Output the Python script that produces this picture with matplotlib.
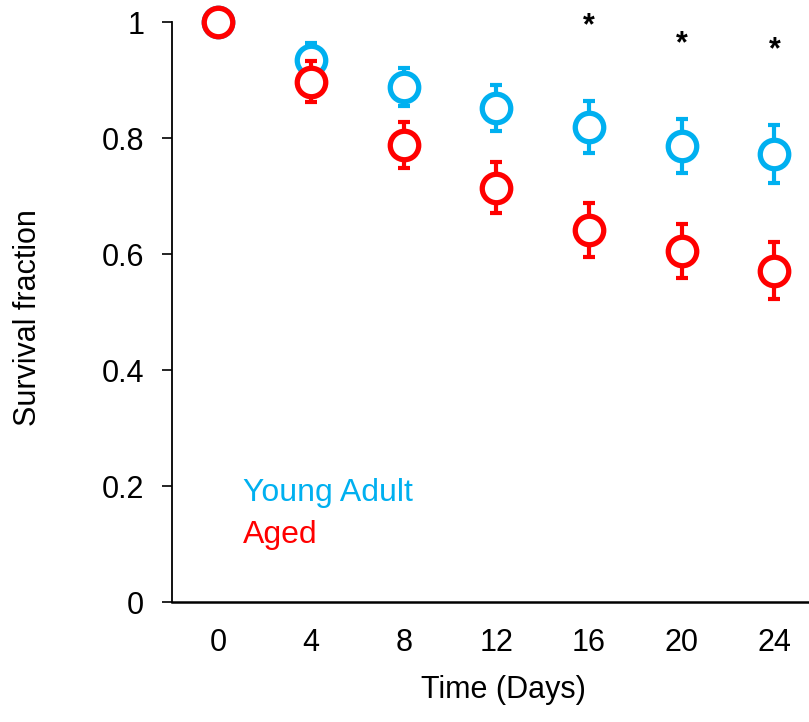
import matplotlib
matplotlib.use("Agg")
import matplotlib.pyplot as plt

plt.rcParams['font.family'] = ['Liberation Sans', 'DejaVu Sans']

days = [0, 4, 8, 12, 16, 20, 24]
young_mean = [1.0, 0.934, 0.888, 0.852, 0.819, 0.786, 0.772]
young_err = [0.0, 0.030, 0.033, 0.040, 0.045, 0.047, 0.050]
aged_mean = [1.0, 0.897, 0.788, 0.714, 0.641, 0.605, 0.571]
aged_err = [0.0, 0.035, 0.040, 0.044, 0.047, 0.047, 0.049]
signif_days = [16, 20, 24]
yticks = [0, 0.2, 0.4, 0.6, 0.8, 1]
ytick_labels = ['0', '0.2', '0.4', '0.6', '0.8', '1']

BLUE = '#00B0F0'
RED = '#FF0000'
FS = 22

W, H = 809, 722
fig = plt.figure(figsize=(W / 100, H / 100), dpi=100)
px_per_day = (775 - 219) / 24.0
x_left = -2.0
x_right = 26.0
ax_w = (x_right - x_left) * px_per_day
ax_h = 602 - 22
ax = fig.add_axes([172 / W, 1 - 602 / H, ax_w / W, ax_h / H])

for mean, err, col, z in [(young_mean, young_err, BLUE, 3), (aged_mean, aged_err, RED, 5)]:
    ax.errorbar(days, mean, yerr=err, fmt='none', ecolor=col, elinewidth=3.0,
                capsize=4.5, capthick=3.0, zorder=z, clip_on=False)
    ax.plot(days, mean, linestyle='none', marker='o', markersize=20.5,
            markerfacecolor='white', markeredgecolor=col, markeredgewidth=3.8,
            zorder=z + 1, clip_on=False)

# significance markers above the young-adult error bars
for d in signif_days:
    i = days.index(d)
    ax.text(d, young_mean[i] + young_err[i] + 0.129, '*', ha='center', va='center',
            fontsize=FS, fontweight='bold', color='black', zorder=10, clip_on=False)

ax.text(1.05, 0.188, 'Young Adult', color=BLUE, fontsize=23, ha='left', va='center')
ax.text(1.05, 0.116, 'Aged', color=RED, fontsize=23, ha='left', va='center')

ax.set_xlim(x_left, x_right)
ax.set_ylim(0, 1)
ax.set_yticks(yticks)
ax.set_yticklabels(ytick_labels)
ax.set_xticks(days)
ax.set_xticklabels([str(d) for d in days])

for s in ['top', 'right']:
    ax.spines[s].set_visible(False)
ax.spines['left'].set_linewidth(1.3)
ax.spines['bottom'].set_linewidth(1.8)

ax.tick_params(axis='y', direction='out', length=7, width=1.2, labelsize=FS, pad=13)
ax.tick_params(axis='x', length=0, labelsize=FS, pad=19)

ax.set_xlabel('Time (Days)', fontsize=FS)
ax.xaxis.set_label_coords((503 - 172) / ax_w, -(675 - 602) / ax_h)
ax.set_ylabel('Survival fraction', fontsize=FS)
ax.yaxis.set_label_coords(-(172 - 43) / ax_w, (602 - 318) / ax_h)

fig.savefig('out.png', dpi=100)
